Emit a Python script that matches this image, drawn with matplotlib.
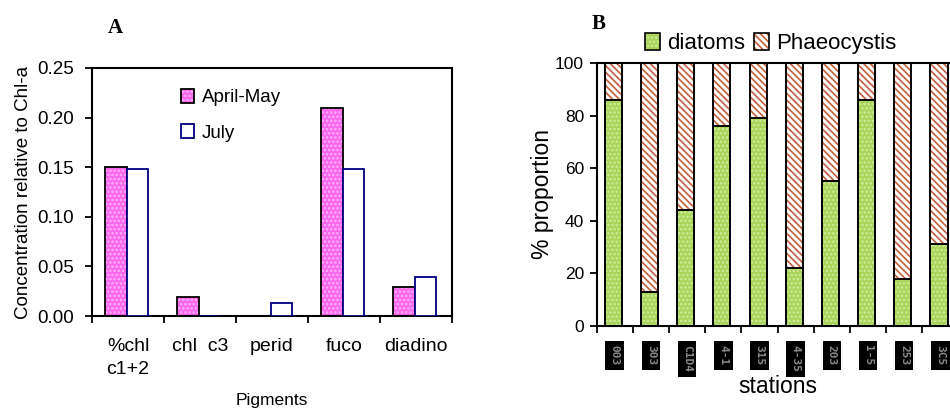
import matplotlib
matplotlib.use("Agg")
import matplotlib.pyplot as plt
from matplotlib.patches import Patch
import numpy as np

# ---- data ----
pigments = ["%chl\nc1+2", "chl  c3", "perid", "fuco", "diadino"]
april_may = [0.150, 0.019, 0.0, 0.210, 0.029]
july = [0.148, 0.0, 0.013, 0.148, 0.039]

stations = ["003", "303", "C1D4", "4-1", "315", "4-35", "203", "1-5", "253", "3C5"]
diatoms = [86, 13, 44, 76, 79, 22, 55, 86, 18, 31]
phaeocystis = [100 - d for d in diatoms]

plt.rcParams['font.family'] = ['Liberation Sans', 'DejaVu Sans']
plt.rcParams['hatch.linewidth'] = 1.2

fig = plt.figure(figsize=(9.5, 4.12), dpi=100)

pink = '#ff66ee'
pink_dot = '#ffb4ff'
green = '#a8d45a'
green_dot = '#d2ec9c'
brown = '#c0603a'
diag = '\\\\\\\\\\'

# ---------------- Panel A ----------------
axA = fig.add_axes([0.0968, 0.233, 0.379, 0.602])
x = np.arange(len(pigments))
w = 0.30
axA.bar(x - w / 2 - 0.02, april_may, width=w, color=pink, hatch='....', edgecolor=pink_dot,
        linewidth=0, zorder=2)
axA.bar(x - w / 2 - 0.02, april_may, width=w, color='none', edgecolor='black', linewidth=1.3, zorder=3)
axA.bar(x + w / 2 - 0.02, july, width=w, color='white', edgecolor='#000080', linewidth=1.3, zorder=3)
axA.set_xlim(-0.5, len(pigments) - 0.5)
axA.set_ylim(0, 0.25)
axA.set_yticks([0, 0.05, 0.10, 0.15, 0.20, 0.25])
axA.set_yticklabels(["0.00", "0.05", "0.10", "0.15", "0.20", "0.25"], fontsize=13.5)
axA.set_xticks(np.arange(len(pigments) + 1) - 0.5)
axA.set_xticklabels([])
axA.set_xticks(x, minor=True)
axA.set_xticklabels(pigments, minor=True, fontsize=14, linespacing=1.45, va='top', ha='center')
axA.tick_params(axis='x', which='minor', length=0, pad=16)
axA.tick_params(axis='x', which='major', direction='out', length=5, width=1.3)
axA.tick_params(axis='y', direction='out', length=5, width=1.3, pad=8)
for s in axA.spines.values():
    s.set_linewidth(1.5)
axA.set_ylabel("Concentration relative to Chl-a", fontsize=13.5, labelpad=4)
axA.set_xlabel("Pigments", fontsize=12.5, labelpad=11)
hA = [(Patch(facecolor=pink, edgecolor=pink_dot, hatch='....', linewidth=0),
       Patch(facecolor='none', edgecolor='black', linewidth=1.3)),
      Patch(facecolor='white', edgecolor='#000080', linewidth=1.3)]
axA.legend(handles=hA, labels=['April-May', 'July'], loc='upper left', bbox_to_anchor=(0.2, 0.985),
           frameon=False, fontsize=13.5, labelspacing=0.95, handlelength=0.7, handleheight=0.8,
           handletextpad=0.4)
fig.text(0.113, 0.92, "A", fontsize=15, fontweight='bold', family='Liberation Serif')

# ---------------- Panel B ----------------
axB = fig.add_axes([0.628, 0.209, 0.381, 0.638])
xs = np.arange(len(stations))
bw = 0.47
axB.bar(xs - 0.04, diatoms, width=bw, color=green, hatch='....', edgecolor=green_dot,
        linewidth=0, zorder=2)
axB.bar(xs - 0.04, phaeocystis, bottom=diatoms, width=bw, color='white', hatch=diag,
        edgecolor=brown, linewidth=0, zorder=2)
axB.bar(xs - 0.04, diatoms, width=bw, color='none', edgecolor='black', linewidth=1.4, zorder=3)
axB.bar(xs - 0.04, phaeocystis, bottom=diatoms, width=bw, color='none', edgecolor='black',
        linewidth=1.4, zorder=3)
axB.set_xlim(-0.5, len(stations) - 0.5)
axB.set_ylim(0, 100)
axB.set_yticks([0, 20, 40, 60, 80, 100])
axB.tick_params(axis='y', labelsize=12.5, direction='out', length=5, width=1.3, pad=4)
axB.set_xticks(np.arange(len(stations) + 1) - 0.5)
axB.set_xticklabels([])
axB.tick_params(axis='x', which='major', direction='out', length=5, width=1.3)
axB.set_xticks(xs, minor=True)
axB.set_xticklabels(stations, minor=True, rotation=270, fontsize=8, color='#8a8a8a',
                    family='DejaVu Sans Mono', fontweight='bold')
for lbl in axB.get_xticklabels(minor=True):
    lbl.set_bbox(dict(facecolor='black', edgecolor='none', pad=3))
axB.tick_params(axis='x', which='minor', length=0, pad=14)
for s in axB.spines.values():
    s.set_linewidth(1.5)
axB.set_ylabel("% proportion", fontsize=16.5, labelpad=1)
axB.set_xlabel("stations", fontsize=16.5, labelpad=2)
hB = [(Patch(facecolor=green, edgecolor=green_dot, hatch='....', linewidth=0),
       Patch(facecolor='none', edgecolor='black', linewidth=1.2)),
      (Patch(facecolor='white', edgecolor=brown, hatch=diag, linewidth=0),
       Patch(facecolor='none', edgecolor='black', linewidth=1.2))]
axB.legend(handles=hB, labels=['diatoms', 'Phaeocystis'], loc='lower center',
           bbox_to_anchor=(0.48, 1.0), ncol=2, frameon=False, fontsize=16,
           handlelength=0.7, handleheight=0.8, handletextpad=0.3, columnspacing=0.4,
           borderaxespad=0)
fig.text(0.623, 0.93, "B", fontsize=15, fontweight='bold', family='Liberation Serif')

fig.savefig("out.png", dpi=100)
